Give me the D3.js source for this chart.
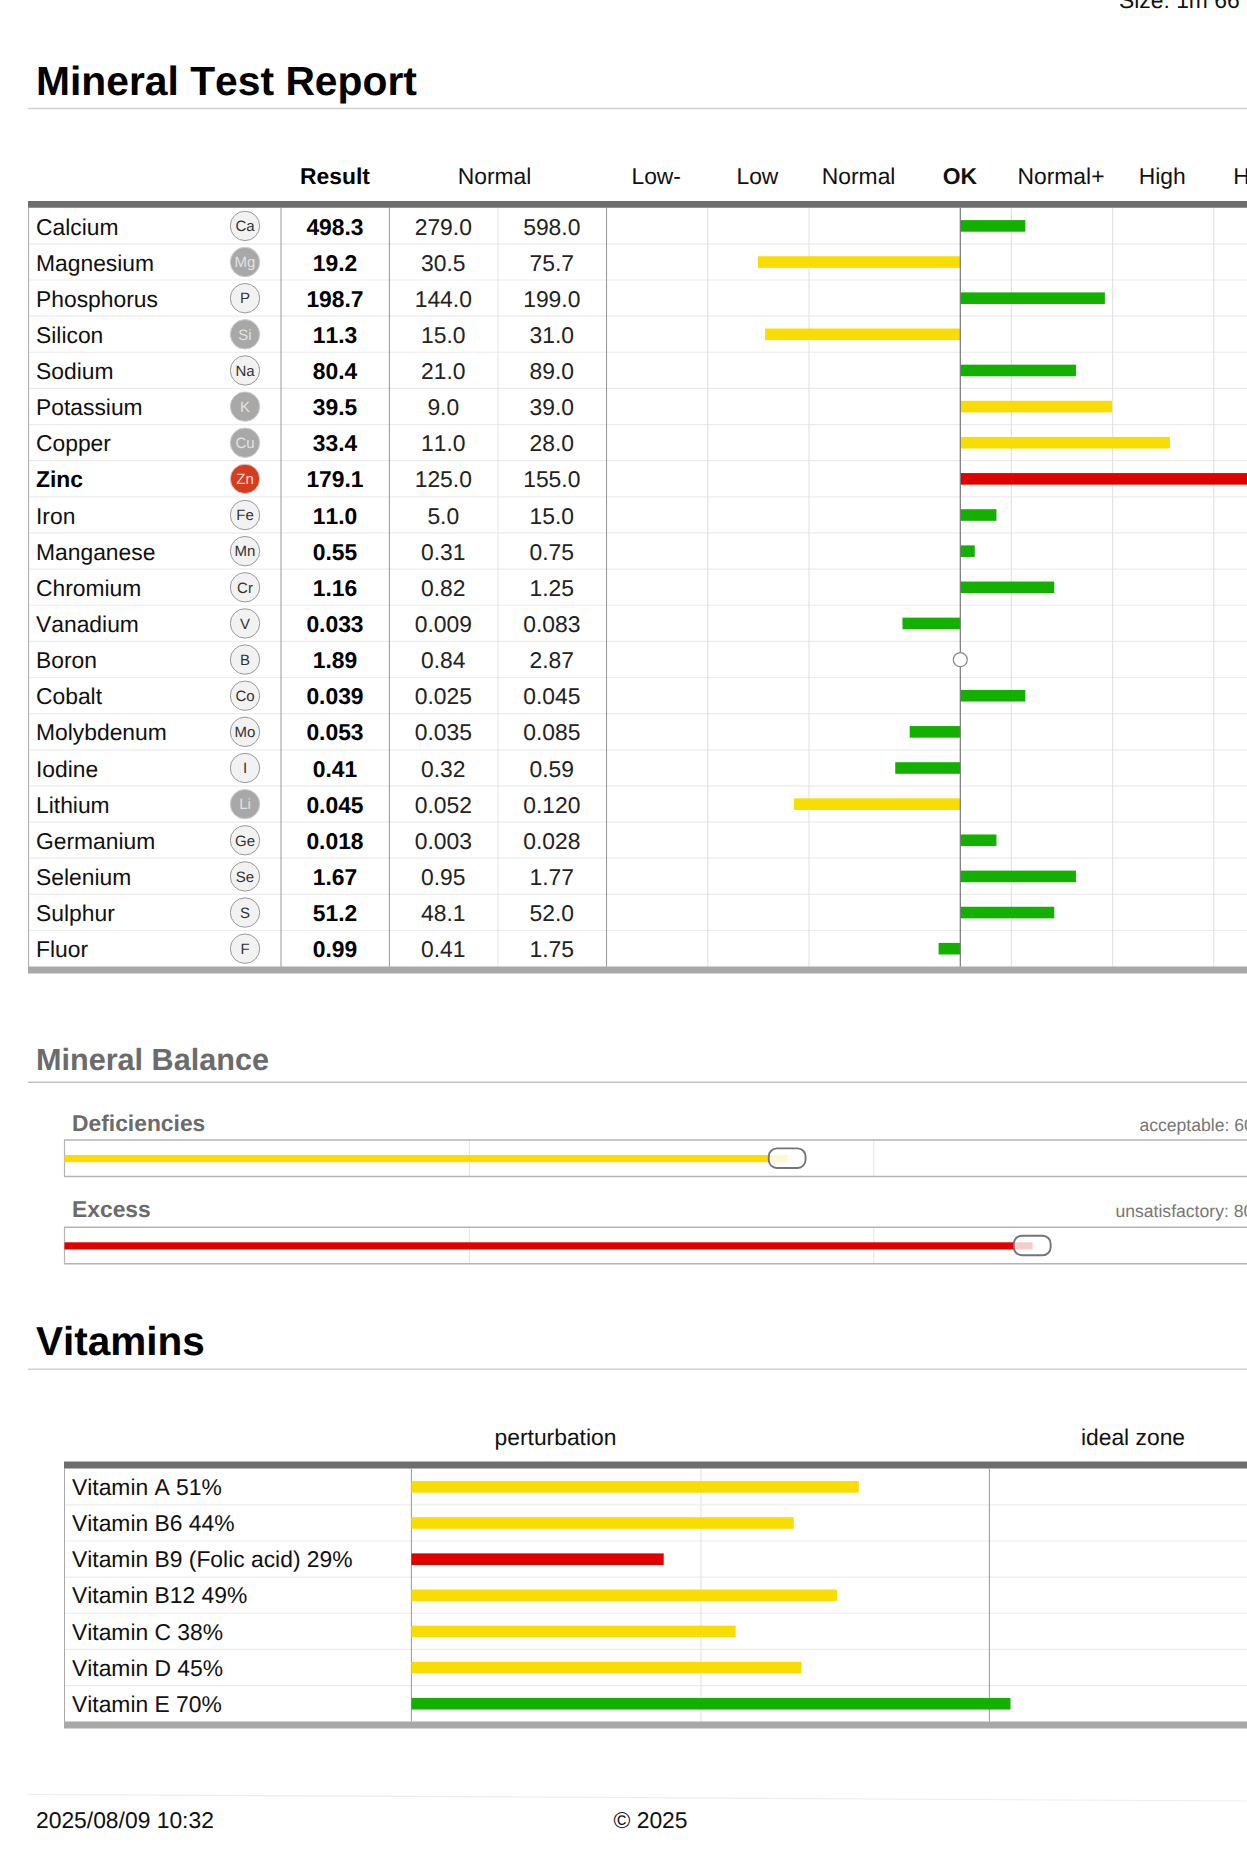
<!DOCTYPE html>
<html>
<head>
<meta charset="utf-8">
<script src="https://cdn.jsdelivr.net/npm/d3@7"></script>
<style>
	html, body { margin: 0; padding: 0; background: #fff; overflow: hidden; }
	text { font-family: "Liberation Sans", Arial, sans-serif; fill: #111; font-kerning: none; text-rendering: geometricPrecision; }
	.grid .domain { display: none; }
	.heading .domain, .heading line { display: none; }
</style>
</head>
<body>
<div class="content"></div>
<script>
const SVGWIDTH = 1247
const SVGHEIGHT = 1870
const FONT = 22.85

const GREEN = "#14b000"
const YELLOW = "#f9dd00"
const RED = "#e00000"

// minerals
const minerals = ["Calcium","Magnesium","Phosphorus","Silicon","Sodium","Potassium","Copper","Zinc","Iron","Manganese","Chromium","Vanadium","Boron","Cobalt","Molybdenum","Iodine","Lithium","Germanium","Selenium","Sulphur","Fluor"];
const symbols = ["Ca","Mg","P","Si","Na","K","Cu","Zn","Fe","Mn","Cr","V","B","Co","Mo","I","Li","Ge","Se","S","F"];
const results = ["498.3","19.2","198.7","11.3","80.4","39.5","33.4","179.1","11.0","0.55","1.16","0.033","1.89","0.039","0.053","0.41","0.045","0.018","1.67","51.2","0.99"];
const normalLow = ["279.0","30.5","144.0","15.0","21.0","9.0","11.0","125.0","5.0","0.31","0.82","0.009","0.84","0.025","0.035","0.32","0.052","0.003","0.95","48.1","0.41"];
const normalHigh = ["598.0","75.7","199.0","31.0","89.0","39.0","28.0","155.0","15.0","0.75","1.25","0.083","2.87","0.045","0.085","0.59","0.120","0.028","1.77","52.0","1.75"];
// deviation from OK, 14 = one column of the chart
const deviation = [9,-28,20,-27,16,21,29,42,5,2,13,-8,0,9,-7,-9,-23,5,16,13,-3];
const levels = ["g","y","g","y","g","y","y","r","g","g","g","g","n","g","g","g","y","g","g","g","g"];
// icon state: n normal, o out of range, r alarm
const iconState = ["n","o","n","o","n","o","o","r","n","n","n","n","n","n","n","n","o","n","n","n","n"];
const scaleLabels = ["Low-","Low","Normal","OK","Normal+","High","High+"];
const scaleTicks = [-42,-28,-14,0,14,28,42];
const gridTicks = [-49,-35,-21,7,21,35,49];

// balance
const balanceNames = ["Deficiencies","Excess"];
const balanceValues = [59.6,79.8];
const balanceLabels = ["acceptable: 60%","unsatisfactory: 80%"];
const balanceColors = [YELLOW,RED];

// vitamins
const vitamins = ["Vitamin A 51%","Vitamin B6 44%","Vitamin B9 (Folic acid) 29%","Vitamin B12 49%","Vitamin C 38%","Vitamin D 45%","Vitamin E 70%"];
const vitaminBars = [51.6,44.1,29.1,49.1,37.4,45,69.1];
const vitaminLevels = ["y","y","r","y","y","y","g"];
const vitaminHeads = ["perturbation","ideal zone"];

const levelColor = {g: GREEN, y: YELLOW, r: RED};

const svg = d3.select(".content").append("svg").attr("width", SVGWIDTH).attr("height", SVGHEIGHT).style("display","block");

const label = (x, y, txt, size, opts = {}) => svg.append("text")
	.attr("x", x).attr("y", y).text(txt)
	.attr("text-anchor", opts.anchor || "start")
	.style("font-size", size + "px")
	.style("font-weight", opts.bold ? "bold" : "normal")
	.style("fill", opts.color || "#111");

const hline = (x1, x2, y, color, w) => svg.append("line")
	.attr("x1", x1).attr("x2", x2).attr("y1", y).attr("y2", y)
	.attr("stroke", color).attr("stroke-width", w);

const vline = (x, y1, y2, color, w) => svg.append("line")
	.attr("x1", x).attr("x2", x).attr("y1", y1).attr("y2", y2)
	.attr("stroke", color).attr("stroke-width", w);

label(1119, 8, "Size: 1m 66", FONT);

//----- mineral table
label(36, 95, "Mineral Test Report", 40.8, {bold: true, color: "#000"});
hline(28, SVGWIDTH, 108.5, "#cfcfcf", 1.5);

const TOP = 207.7, ROW = 36.14;
const rowY = d3.scaleLinear().domain([0, minerals.length]).range([TOP, TOP + ROW * minerals.length]);
const xdev = d3.scaleLinear().domain([0, 14]).range([960.3, 1061.5]);

label(335, 184, "Result", FONT, {anchor: "middle", bold: true, color: "#000"});
label(494.5, 184, "Normal", FONT, {anchor: "middle"});

// scale headings
const heading = svg.append("g").attr("class","heading").attr("transform","translate(-1,184)")
	.call(d3.axisTop(xdev).tickValues(scaleTicks).tickSize(0).tickPadding(0).tickFormat((d, i) => scaleLabels[i]));
heading.selectAll("text")
	.attr("y", 0).attr("dy", 0)
	.style("font-size", FONT + "px")
	.style("font-family", '"Liberation Sans", Arial, sans-serif')
	.style("font-weight", d => d === 0 ? "bold" : "normal");

// row lines and grid
svg.append("g").selectAll("line").data(d3.range(1, minerals.length)).join("line")
	.attr("x1", 28).attr("x2", SVGWIDTH)
	.attr("y1", d => rowY(d)).attr("y2", d => rowY(d))
	.attr("stroke", "#ececec").attr("stroke-width", 1.2);

const grid = svg.append("g").attr("class","grid").attr("transform","translate(0," + TOP + ")")
	.call(d3.axisBottom(xdev).tickValues(gridTicks).tickSize(ROW * minerals.length).tickFormat(""));
grid.selectAll("line").attr("stroke", "#e4e4e4").attr("stroke-width", 1.2);

vline(28.6, TOP, rowY(21), "#aaa", 1);
vline(281, TOP, rowY(21), "#999", 1);
vline(389.4, TOP, rowY(21), "#999", 1);
vline(498, TOP, rowY(21), "#eaeaea", 1.2);
vline(606.5, TOP, rowY(21), "#999", 1);

// deviation bars
svg.append("g").selectAll("rect").data(deviation).join("rect")
	.attr("x", d => Math.min(xdev(0), xdev(d)))
	.attr("width", d => Math.abs(xdev(d) - xdev(0)))
	.attr("y", (d, i) => rowY(i) + 12.4)
	.attr("height", 11.6)
	.attr("fill", (d, i) => levelColor[levels[i]] || "none");

vline(xdev(0), TOP, rowY(21), "#777", 1.2);

svg.append("g").selectAll("circle").data(deviation.map((d, i) => [d, i]).filter(d => levels[d[1]] === "n")).join("circle")
	.attr("cx", d => xdev(d[0]))
	.attr("cy", d => rowY(d[1]) + 18.3)
	.attr("r", 7)
	.attr("fill", "#fff").attr("stroke", "#888").attr("stroke-width", 1.2);

// row contents
minerals.forEach((name, i) => {
	const base = rowY(i) + 26.8;
	const st = iconState[i];
	label(36, base, name, FONT, {bold: st === "r", color: st === "r" ? "#000" : "#111"});
	svg.append("circle")
		.attr("cx", 245).attr("cy", rowY(i) + 18.2).attr("r", 14.7)
		.attr("fill", st === "r" ? "#d83c1e" : st === "o" ? "#a8a8a8" : "#f2f2f2")
		.attr("stroke", st === "n" ? "#999" : "#ccc").attr("stroke-width", 1);
	label(245, rowY(i) + 23.5, symbols[i], 15, {anchor: "middle", color: st === "r" ? "#f6d9d0" : st === "o" ? "#e2e2e2" : "#333"});
	label(335, base, results[i], FONT, {anchor: "middle", bold: true, color: "#000"});
	label(443.3, base, normalLow[i], FONT, {anchor: "middle", color: "#222"});
	label(551.8, base, normalHigh[i], FONT, {anchor: "middle", color: "#222"});
});

hline(28, SVGWIDTH, 204.3, "#6e6e6e", 6.8);
hline(28, SVGWIDTH, 970, "#a8a8a8", 6.8);

//----- mineral balance
label(36, 1070, "Mineral Balance", 30.6, {bold: true, color: "#6b6b6b"});
hline(28, SVGWIDTH, 1082.3, "#c4c4c4", 1.5);

const xbal = d3.scaleLinear().domain([0, 100]).range([64.5, 1277.7]);
const BOX_H = 36.5;
const boxTop = [1140, 1227.3];
const balanceTextY = [1130.7, 1217];
const balanceTextX = [1139.4, 1115.4];

balanceNames.forEach((name, i) => {
	const y = boxTop[i];
	label(72, balanceTextY[i], name, FONT, {bold: true, color: "#6b6b6b"});
	label(balanceTextX[i], balanceTextY[i], balanceLabels[i], 17.6, {color: "#777"});
	svg.append("g").attr("class","grid").attr("transform","translate(0," + y + ")")
		.call(d3.axisBottom(xbal).tickValues([100 / 3, 200 / 3]).tickSize(BOX_H).tickFormat(""))
		.selectAll("line").attr("stroke", "#e4e4e4").attr("stroke-width", 1);
	hline(64, SVGWIDTH, y, "#b4b4b4", 1.4);
	hline(64, SVGWIDTH, y + BOX_H, "#b4b4b4", 1.4);
	vline(64.5, y, y + BOX_H, "#b4b4b4", 1.2);
	svg.append("rect")
		.attr("x", xbal(0)).attr("y", y + 15)
		.attr("width", xbal(balanceValues[i]) - xbal(0)).attr("height", 7.2)
		.attr("fill", balanceColors[i]);
	svg.append("rect")
		.attr("x", xbal(balanceValues[i]) - 18.8).attr("y", y + 8.4)
		.attr("width", 36.8).attr("height", 19.6).attr("rx", 8)
		.attr("fill", "#fff").attr("fill-opacity", 0.8)
		.attr("stroke", "#757575").attr("stroke-width", 1.9);
});

//----- vitamins
label(36, 1354.8, "Vitamins", 40.5, {bold: true, color: "#000"});
hline(28, SVGWIDTH, 1369.3, "#cfcfcf", 1.5);

const VTOP = 1468.7;
const rowV = d3.scaleLinear().domain([0, vitamins.length]).range([VTOP, VTOP + ROW * vitamins.length]);
const xvit = d3.scaleLinear().domain([0, 100]).range([411.4, 1278.4]);

label(555.5, 1445, vitaminHeads[0], FONT, {anchor: "middle"});
label(1133, 1445, vitaminHeads[1], FONT, {anchor: "middle"});

svg.append("g").selectAll("line").data(d3.range(1, vitamins.length)).join("line")
	.attr("x1", 64.5).attr("x2", SVGWIDTH)
	.attr("y1", d => rowV(d)).attr("y2", d => rowV(d))
	.attr("stroke", "#ececec").attr("stroke-width", 1.2);

svg.append("g").attr("class","grid").attr("transform","translate(0," + VTOP + ")")
	.call(d3.axisBottom(xvit).tickValues([100 / 3]).tickSize(ROW * vitamins.length).tickFormat(""))
	.selectAll("line").attr("stroke", "#e4e4e4").attr("stroke-width", 1.2);

vline(64.5, VTOP, rowV(7), "#aaa", 1);
vline(xvit(0), VTOP, rowV(7), "#999", 1);
vline(xvit(200 / 3), VTOP, rowV(7), "#999", 1);

svg.append("g").selectAll("rect").data(vitaminBars).join("rect")
	.attr("x", xvit(0))
	.attr("y", (d, i) => rowV(i) + 12.4)
	.attr("width", d => xvit(d) - xvit(0))
	.attr("height", 11.6)
	.attr("fill", (d, i) => levelColor[vitaminLevels[i]]);

vitamins.forEach((name, i) => label(72, rowV(i) + 26.3, name, FONT));

hline(64, SVGWIDTH, 1465, "#6e6e6e", 7);
hline(64, SVGWIDTH, 1725, "#a8a8a8", 6.8);

//----- footer
svg.append("line").attr("x1", 28).attr("y1", 1794.3).attr("x2", SVGWIDTH).attr("y2", 1801)
	.attr("stroke", "#eee").attr("stroke-width", 1.2);
label(36, 1827.7, "2025/08/09 10:32", FONT);
label(613.5, 1827.7, "© 2025", FONT);
</script>
</body>
</html>
